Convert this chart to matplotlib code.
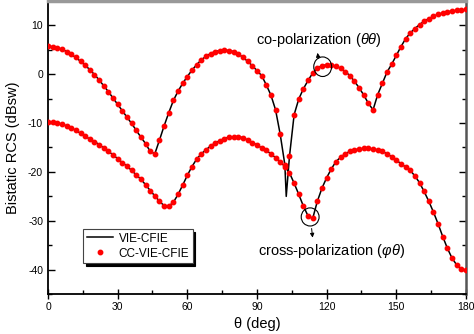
import matplotlib.pyplot as plt
import numpy as np
from matplotlib.patches import Ellipse

plt.rcParams['font.family'] = ['Liberation Sans', 'DejaVu Sans']
plt.rcParams['mathtext.fontset'] = 'custom'
plt.rcParams['mathtext.rm'] = 'Liberation Sans'
plt.rcParams['mathtext.it'] = 'Liberation Sans:italic'
plt.rcParams['axes.unicode_minus'] = False

# Data (dBsw), sampled every 2 deg from 0 to 180
theta = np.arange(0, 181, 2)

co_pol = [5.7, 5.6, 5.4, 5.1, 4.6, 4.0, 3.4, 2.6, 1.8, 0.9,
          -0.1, -1.2, -2.4, -3.6, -4.9, -6.2, -7.5, -8.8, -10.1, -11.5,
          -12.9, -14.2, -15.8, -16.3, -13.5, -10.6, -7.9, -5.4, -3.5, -1.9,
          -0.5, 0.8, 1.9, 2.9, 3.6, 4.2, 4.6, 4.8, 4.9, 4.8,
          4.6, 4.1, 3.4, 2.6, 1.7, 0.7, -0.3, -2.2, -4.3, -7.3,
          -12.3, -18.5, -16.8, -8.3, -5.1, -3.0, -1.3, 0.2, 1.2, 1.7,
          1.9, 1.9, 1.6, 1.2, 0.5, -0.3, -1.5, -2.8, -4.3, -6.0,
          -7.3, -4.2, -1.9, 0.4, 2.0, 3.8, 5.6, 7.2, 8.4, 9.3,
          10.1, 10.8, 11.3, 11.8, 12.2, 12.5, 12.7, 12.9, 13.0, 13.1,
          13.2]

cross_pol = [-9.7, -9.8, -10.0, -10.2, -10.6, -11.0, -11.5, -12.1, -12.7, -13.3,
             -13.8, -14.4, -15.1, -15.8, -16.5, -17.3, -18.1, -18.8, -19.7, -20.6,
             -21.5, -22.6, -23.8, -24.9, -26.0, -26.9, -27.0, -26.2, -24.6, -22.7,
             -20.7, -18.9, -17.4, -16.3, -15.5, -14.7, -14.1, -13.6, -13.2, -12.9,
             -12.8, -12.8, -13.0, -13.5, -14.0, -14.5, -15.1, -15.6, -16.3, -17.1,
             -17.9, -18.9, -20.2, -22.3, -24.6, -27.0, -29.0, -29.5, -26.0, -23.3,
             -21.2, -19.4, -17.9, -17.0, -16.3, -15.8, -15.5, -15.3, -15.2, -15.2,
             -15.3, -15.5, -15.8, -16.3, -16.9, -17.6, -18.3, -19.0, -19.7, -20.8,
             -22.2, -24.0, -26.0, -28.2, -30.6, -33.2, -35.6, -37.6, -39.0, -39.8,
             -40.1]

# the VIE-CFIE co-pol curve has a deep null the markers skip
null_theta = 102.6
null_value = -25.0

idx = np.searchsorted(theta, null_theta)
vie_theta_co = np.insert(theta.astype(float), idx, null_theta)
vie_co = np.insert(np.array(co_pol), idx, null_value)

fig = plt.figure(figsize=(4.74, 3.34), dpi=100)
ax = fig.add_axes([0.1013, 0.119, 0.8817, 0.879])

ax.plot(vie_theta_co, vie_co, color='black', lw=1.1, label='VIE-CFIE', zorder=2)
ax.plot(theta, cross_pol, color='black', lw=1.1, zorder=2)
ax.plot(theta, co_pol, 'o', color='red', ms=3.2, mec='red', label='CC-VIE-CFIE', zorder=3)
ax.plot(theta, cross_pol, 'o', color='red', ms=3.2, mec='red', zorder=3)

ax.set_xlim(0, 180)
ax.set_ylim(-45, 15)
ax.set_xticks(np.arange(0, 181, 30))
ax.set_xticks(np.arange(15, 180, 30), minor=True)
ax.set_yticks(np.arange(-40, 11, 10))
ax.set_yticks(np.arange(-45, 16, 5), minor=True)

ax.tick_params(axis='x', which='major', direction='inout', length=7, width=1, labelsize=7.5, pad=2)
ax.tick_params(axis='x', which='minor', direction='in', length=3, width=1)
ax.tick_params(axis='y', which='both', direction='in', right=True, labelsize=7.5, width=1)
ax.tick_params(axis='y', which='major', length=5)
ax.tick_params(axis='y', which='minor', length=3)

for s in ['left', 'bottom']:
    ax.spines[s].set_linewidth(1.3)
ax.spines['right'].set_color('#555555')
ax.spines['right'].set_linewidth(1.8)
ax.spines['top'].set_color('#999999')
ax.spines['top'].set_linewidth(2.5)

ax.set_xlabel('θ (deg)', fontsize=10.5, labelpad=4)
ax.set_ylabel('Bistatic RCS (dBsw)', fontsize=10.5, labelpad=6)

leg = ax.legend(loc='upper left', bbox_to_anchor=(0.084, 0.222), borderaxespad=0,
                fontsize=8.5, frameon=True, fancybox=False, handlelength=2.2,
                handletextpad=0.5, labelspacing=0.25, borderpad=0.3,
                shadow={'color': 'black', 'alpha': 1})
leg.get_frame().set_edgecolor('#444444')
leg.get_frame().set_linewidth(0.8)

# annotations
ax.add_patch(Ellipse((118.3, 1.5), 7.7, 4.0, fill=False, ec='black', lw=0.8, zorder=4))
ax.annotate('', xy=(115.9, 4.9), xytext=(116.6, 2.6),
            arrowprops=dict(arrowstyle='-|>', lw=0.7, color='black', mutation_scale=6))
ax.text(116.6, 6.9, r'co-polarization ($\theta\theta$)', fontsize=10.5, ha='center', va='center')

ax.add_patch(Ellipse((112.9, -29.2), 7.7, 3.7, fill=False, ec='black', lw=0.8, zorder=4))
ax.annotate('', xy=(114.1, -34.0), xytext=(113.4, -31.0),
            arrowprops=dict(arrowstyle='-|>', lw=0.7, color='black', mutation_scale=6))
ax.text(122.1, -36.2, r'cross-polarization ($\varphi\theta$)', fontsize=10.5, ha='center', va='center')

plt.savefig('out.png', dpi=100)
